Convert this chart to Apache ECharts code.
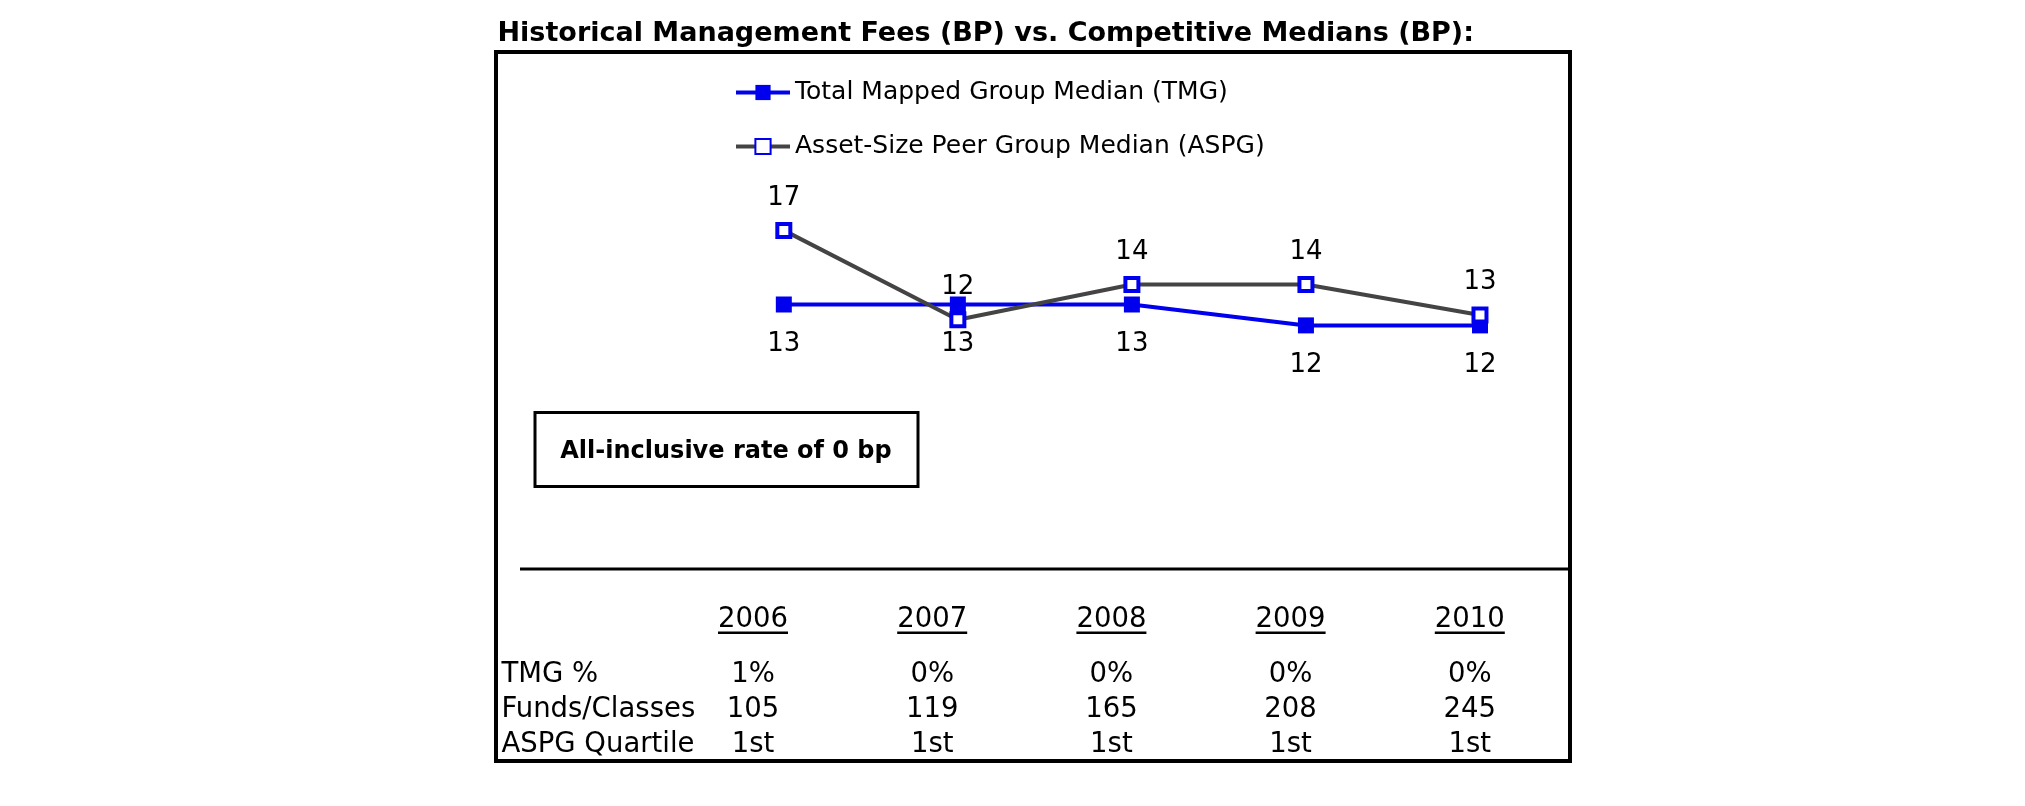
<!DOCTYPE html>
<html><head><meta charset="utf-8">
<script src="https://cdn.jsdelivr.net/npm/echarts@6/dist/echarts.min.js"></script>
<style>html,body{margin:0;padding:0;background:#fff}#c{width:2025px;height:806px}</style>
</head><body><div id="c"></div>
<script>
// ---- data ----
const years = ['2006', '2007', '2008', '2009', '2010'];
const tmgName = 'Total Mapped Group Median (TMG)';
const aspgName = 'Asset-Size Peer Group Median (ASPG)';
const tmgValues = [13.2, 13.2, 13.2, 12.1, 12.1];
const aspgValues = [17.1, 12.4, 14.25, 14.25, 12.65];
const tableRows = ['TMG %', 'Funds/Classes', 'ASPG Quartile'];
const tmgPct = ['1%', '0%', '0%', '0%', '0%'];
const fundsClasses = ['105', '119', '165', '208', '245'];
const aspgQuartile = ['1st', '1st', '1st', '1st', '1st'];
const titleText = 'Historical Management Fees (BP) vs. Competitive Medians (BP):';
const noteText = 'All-inclusive rate of 0 bp';

// ---- build ----
const FONT = 'DejaVu Sans';
const BLUE = '#0000ee';
const GRAY = '#444444';
const tableData = [];
[tmgPct, fundsClasses, aspgQuartile].forEach((row, r) => {
  row.forEach((t, c) => tableData.push([c, r, t]));
});
const roundLabel = p => String(Math.round(p.value));

const chart = echarts.init(document.getElementById('c'));
chart.setOption({
  animation: false,
  backgroundColor: '#fff',
  title: {
    text: titleText, left: 497.5, top: 20, padding: 0,
    textStyle: { fontSize: 27, fontWeight: 'bold', fontFamily: FONT, color: '#000' }
  },
  legend: {
    orient: 'vertical', left: 734, top: 80, padding: 0,
    itemWidth: 54, itemHeight: 19, itemGap: 29,
    textStyle: { fontSize: 25, fontFamily: FONT, color: '#000', padding: [0, 0, 0, 0] },
    data: [
      { name: tmgName, lineStyle: { width: 4 } },
      { name: aspgName, itemStyle: { borderWidth: 2 }, lineStyle: { width: 4 } }
    ]
  },
  grid: [
    { left: 696.8, width: 870.2, top: 175.3, height: 380, outerBoundsMode: 'none' },
    { left: 663.4, width: 896, top: 657.3, height: 105, outerBoundsMode: 'none' }
  ],
  xAxis: [
    { type: 'category', data: years, gridIndex: 0, show: false, boundaryGap: true },
    {
      type: 'category', data: years, gridIndex: 1, position: 'top', boundaryGap: true,
      axisLine: { show: false }, axisTick: { show: false }, splitLine: { show: false },
      axisLabel: {
        interval: 0, margin: 22.5,
        formatter: v => '{y|' + v + '}\n{u| }',
        rich: {
          y: { fontSize: 27.5, fontFamily: FONT, color: '#000', lineHeight: 22 },
          u: { fontSize: 2, width: 70, height: 2.5, lineHeight: 4, backgroundColor: '#000' }
        }
      }
    }
  ],
  yAxis: [
    { type: 'value', gridIndex: 0, min: 0, max: 20, show: false },
    {
      type: 'category', data: tableRows, gridIndex: 1, inverse: true,
      axisLine: { show: false }, axisTick: { show: false }, splitLine: { show: false },
      axisLabel: { interval: 0, align: 'left', margin: 162, fontSize: 27.5, fontFamily: FONT, color: '#000' }
    }
  ],
  series: [
    {
      name: tmgName, type: 'line', xAxisIndex: 0, yAxisIndex: 0, data: tmgValues,
      symbol: 'rect', symbolSize: 16,
      itemStyle: { color: BLUE },
      lineStyle: { color: BLUE, width: 4 },
      label: { show: true, position: 'bottom', distance: 18.5, color: '#000', fontSize: 26, fontFamily: FONT, formatter: roundLabel }
    },
    {
      name: aspgName, type: 'line', xAxisIndex: 0, yAxisIndex: 0, data: aspgValues,
      symbol: 'rect', symbolSize: 13,
      itemStyle: { color: '#fff', borderColor: BLUE, borderWidth: 4 },
      lineStyle: { color: GRAY, width: 4 },
      label: { show: true, position: 'top', distance: 11, color: '#000', fontSize: 26, fontFamily: FONT, formatter: roundLabel }
    },
    {
      name: 'table', type: 'scatter', xAxisIndex: 1, yAxisIndex: 1, data: tableData,
      symbolSize: 0, silent: true,
      itemStyle: { opacity: 1 },
      label: { show: true, position: 'inside', color: '#000', opacity: 1, fontSize: 27.5, fontFamily: FONT, formatter: p => p.value[2] }
    }
  ],
  graphic: [
    { type: 'rect', shape: { x: 496, y: 52, width: 1074, height: 709 }, style: { fill: null, stroke: '#000', lineWidth: 4 }, silent: true },
    { type: 'line', shape: { x1: 520, y1: 569, x2: 1570, y2: 569 }, style: { stroke: '#000', lineWidth: 3 }, silent: true },
    { type: 'rect', shape: { x: 535, y: 412.5, width: 383, height: 74 }, style: { fill: null, stroke: '#000', lineWidth: 3 }, silent: true },
    { type: 'text', x: 726, y: 452, style: { text: noteText, font: 'bold 24px "DejaVu Sans"', fill: '#000', align: 'center', verticalAlign: 'middle' }, silent: true }
  ]
});
</script>
</body></html>
